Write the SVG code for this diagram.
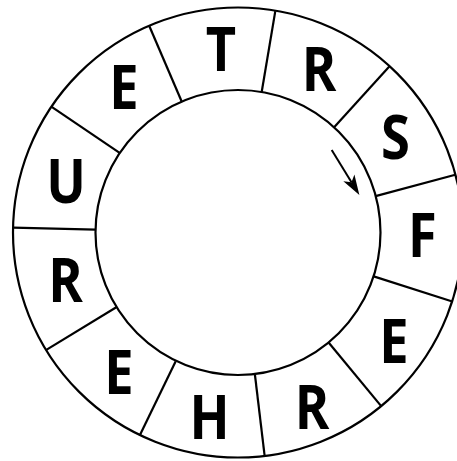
<svg xmlns="http://www.w3.org/2000/svg" width="457" height="461" viewBox="0 0 457 461">
  <defs>
    <style>
      .ring { fill: none; stroke: #000; stroke-width: 2.2; }
      .spoke { stroke: #000; stroke-width: 2.2; stroke-linecap: butt; }
      .letter { font-family: "Open Sans", "Liberation Sans", sans-serif; font-weight: 700; font-size: 61px; fill: #000; text-anchor: middle; }
      .arrow { stroke: #000; stroke-width: 2; fill: none; }
    </style>
    <marker id="head" markerUnits="userSpaceOnUse" markerWidth="30" markerHeight="20" viewBox="-10 -10 30 20" refX="0" refY="0" orient="auto">
      <path d="M15,0 L-5,-6.5 L0,0 L-5,6.5 Z" fill="#000"/>
    </marker>
  </defs>
  <rect width="457" height="461" fill="#fff"/>
  <g id="wheel">
    <circle class="ring" cx="238" cy="232.5" r="225"/>
    <circle class="ring" cx="238" cy="232.5" r="142.5"/>
    <line class="spoke" x1="375.6" y1="196.1" x2="455.3" y2="174.8"/>
    <line class="spoke" x1="333.9" y1="127.6" x2="389.3" y2="66.5"/>
    <line class="spoke" x1="261.6" y1="92.5" x2="275.3" y2="11.1"/>
    <line class="spoke" x1="181.9" y1="102.0" x2="149.4" y2="26.2"/>
    <line class="spoke" x1="120.0" y1="153.1" x2="51.7" y2="106.9"/>
    <line class="spoke" x1="95.5" y1="229.6" x2="13.1" y2="227.6"/>
    <line class="spoke" x1="116.3" y1="307.2" x2="45.9" y2="350.1"/>
    <line class="spoke" x1="175.7" y1="361.2" x2="139.7" y2="435.4"/>
    <line class="spoke" x1="254.9" y1="374.5" x2="264.7" y2="456.4"/>
    <line class="spoke" x1="328.8" y1="342.8" x2="381.4" y2="406.4"/>
    <line class="spoke" x1="373.7" y1="276.4" x2="452.3" y2="301.5"/>
  </g>
  <g id="seg-T"><text class="letter" transform="translate(221,71) scale(0.86,1)">T</text></g>
  <g id="seg-R1"><text class="letter" transform="translate(319,91) scale(0.86,1)">R</text></g>
  <g id="seg-S"><text class="letter" transform="translate(395.5,159) scale(0.86,1)">S</text></g>
  <g id="seg-F"><text class="letter" transform="translate(422.5,257) scale(0.86,1)">F</text></g>
  <g id="seg-E1"><text class="letter" transform="translate(394,362.5) scale(0.86,1)">E</text></g>
  <g id="seg-R2"><text class="letter" transform="translate(312,429) scale(0.86,1)">R</text></g>
  <g id="seg-H"><text class="letter" transform="translate(209.5,438.5) scale(0.86,1)">H</text></g>
  <g id="seg-E2"><text class="letter" transform="translate(119,394) scale(0.86,1)">E</text></g>
  <g id="seg-R3"><text class="letter" transform="translate(65.5,302) scale(0.86,1)">R</text></g>
  <g id="seg-U"><text class="letter" transform="translate(66,202.5) scale(0.86,1)">U</text></g>
  <g id="seg-E3"><text class="letter" transform="translate(124,109) scale(0.86,1)">E</text></g>
  <g id="connectors">
    <line class="arrow" x1="331.7" y1="150" x2="351.5" y2="182.2" marker-end="url(#head)"/>
  </g>
</svg>
